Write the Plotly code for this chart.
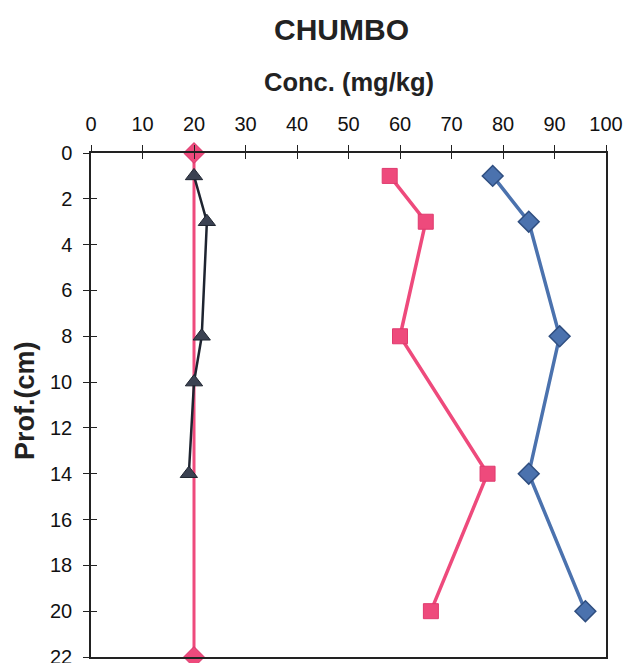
import plotly.graph_objects as go

# Lead (chumbo) concentration profiles versus depth
depth_ref = [0, 22]
conc_ref = [20, 20]

depth_tri = [1, 3, 8, 10, 14]
conc_tri = [20, 22.5, 21.5, 20, 19]

depth_sq = [1, 3, 8, 14, 20]
conc_sq = [58, 65, 60, 77, 66]

depth_dia = [1, 3, 8, 14, 20]
conc_dia = [78, 85, 91, 85, 96]

x_ticks = list(range(0, 101, 10))
y_ticks = list(range(0, 23, 2))

PINK = "#EE4A7C"
BLUE = "#4B72AE"
BLUE_EDGE = "#2F4E80"
DARK = "#3B4252"

W, H = 628, 663
L, R, T, B = 91, 22, 153, 6
plot_w = W - L - R
plot_h = H - T - B

fig = go.Figure()

fig.add_trace(go.Scatter(
    x=conc_ref, y=depth_ref, mode="lines+markers",
    line=dict(color=PINK, width=3),
    marker=dict(symbol="diamond", size=16, color=PINK,
                line=dict(color="#D8356A", width=1)),
    cliponaxis=False, showlegend=False))

fig.add_trace(go.Scatter(
    x=conc_tri, y=depth_tri, mode="lines+markers",
    line=dict(color="#1E2430", width=2.5),
    marker=dict(symbol="triangle-up", size=15, color=DARK,
                line=dict(color="#1E2430", width=1)),
    showlegend=False))

fig.add_trace(go.Scatter(
    x=conc_sq, y=depth_sq, mode="lines+markers",
    line=dict(color=PINK, width=3.5),
    marker=dict(symbol="square", size=15, color=PINK,
                line=dict(color="#E03A6E", width=1)),
    showlegend=False))

fig.add_trace(go.Scatter(
    x=conc_dia, y=depth_dia, mode="lines+markers",
    line=dict(color=BLUE, width=3.5),
    marker=dict(symbol="diamond", size=16, color=BLUE,
                line=dict(color=BLUE_EDGE, width=1.5)),
    showlegend=False))

# Companion axes carrying the inward half of each tick mark
fig.add_trace(go.Scatter(x=[], y=[], xaxis="x2", yaxis="y2",
                         showlegend=False, hoverinfo="skip"))

tick_font = dict(family="Liberation Sans, Arial", size=20, color="#111111")

fig.update_layout(
    width=W, height=H,
    margin=dict(l=L, r=R, t=T, b=B),
    paper_bgcolor="white", plot_bgcolor="white",
    font=dict(family="Liberation Sans, Arial", color="#1a1a1a"),
    xaxis=dict(
        range=[0, 100], side="top", tickvals=x_ticks,
        ticks="outside", ticklen=6, tickwidth=1, tickcolor="#222",
        showline=True, linecolor="#222", linewidth=1.5, mirror=True,
        showgrid=False, zeroline=False, tickfont=tick_font,
        ticklabelstandoff=6, ticklabeloverflow="allow", automargin=False,
    ),
    yaxis=dict(
        range=[22, 0], tickvals=y_ticks,
        ticks="outside", ticklen=6, tickwidth=1, tickcolor="#222",
        showline=True, linecolor="#222", linewidth=1.5, mirror=True,
        showgrid=False, zeroline=False, tickfont=tick_font,
        ticklabelstandoff=7, ticklabeloverflow="allow", automargin=False,
    ),
    xaxis2=dict(
        range=[0, 100], side="top", overlaying="x", anchor="y2",
        tickvals=x_ticks, ticks="inside", ticklen=6, tickwidth=1,
        tickcolor="#222", showticklabels=False, showline=False,
        showgrid=False, zeroline=False, automargin=False,
    ),
    yaxis2=dict(
        range=[22, 0], overlaying="y", anchor="x2", side="left",
        tickvals=y_ticks, ticks="inside", ticklen=6, tickwidth=1,
        tickcolor="#222", showticklabels=False, showline=False,
        showgrid=False, zeroline=False, automargin=False,
    ),
    annotations=[
        dict(text="<b>CHUMBO</b>", xref="paper", yref="paper",
             x=(341 - L) / plot_w, y=1 + (T - 30) / plot_h,
             xanchor="center", yanchor="middle", showarrow=False,
             font=dict(size=30, color="#222")),
        dict(text="<b>Conc. (mg/kg)</b>", xref="paper", yref="paper",
             x=0.5, y=1 + (T - 82) / plot_h,
             xanchor="center", yanchor="middle", showarrow=False,
             font=dict(size=25.5, color="#222")),
        dict(text="<b>Prof.(cm)</b>", xref="paper", yref="paper",
             x=(25 - L) / plot_w, y=(H - B - 401) / plot_h,
             xanchor="center", yanchor="middle", showarrow=False,
             textangle=-90, font=dict(size=27, color="#222")),
    ],
)

fig.write_html("out.html")
